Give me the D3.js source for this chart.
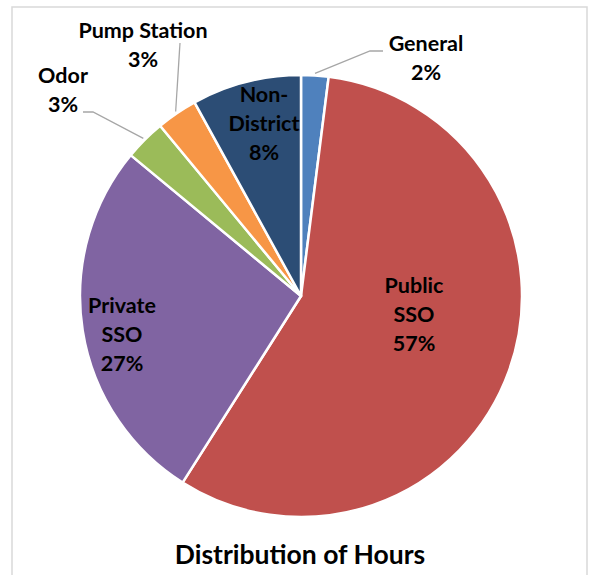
<!DOCTYPE html>
<html>
<head>
<meta charset="utf-8">
<script src="https://cdn.jsdelivr.net/npm/d3@7"></script>
<style>
  html, body { margin: 0; padding: 0; background: #fff; }
  svg { display: block; }
  text { font-family: Lato, "Open Sans", sans-serif; font-weight: bold; fill: #000; }
</style>
</head>
<body>
<svg id="chart" width="589" height="575"></svg>
<script>
// Share of hours by category, clockwise from 12 o'clock
const categories = ["General", "Public SSO", "Private SSO", "Odor", "Pump Station", "Non-District"];
const shares = [2, 57, 27, 3, 3, 8];
const colors = ["#4F81BD", "#C0504D", "#8064A2", "#9BBB59", "#F79646", "#2C4D75"];
// label text lines per category (value line appended from shares)
const labelLines = [["General"], ["Public", "SSO"], ["Private", "SSO"], ["Odor"], ["Pump Station"], ["Non-", "District"]];
const chartTitle = "Distribution of Hours";

const width = 589, height = 575;
const cx = 301, cy = 296, radius = 221;
const lineGap = 29;

const svg = d3.select("#chart");

// outer frame
svg.append("rect")
  .attr("x", 12).attr("y", 7)
  .attr("width", 575).attr("height", 580)
  .attr("fill", "none").attr("stroke", "#D9D9D9").attr("stroke-width", 1.5);

const data = categories.map((c, i) => ({ name: c, value: shares[i], color: colors[i], lines: labelLines[i] }));

const pie = d3.pie().sort(null).value(d => d.value);
const arcs = pie(data);
const arc = d3.arc().innerRadius(0).outerRadius(radius);

const g = svg.append("g").attr("transform", `translate(${cx},${cy})`);

g.selectAll("path.slice")
  .data(arcs)
  .join("path")
  .attr("class", "slice")
  .attr("d", arc)
  .attr("fill", d => d.data.color)
  .attr("stroke", "#fff")
  .attr("stroke-width", 2.5)
  .attr("stroke-linejoin", "round");

// label placement: inside labels by position, outside labels with leader lines
const midAngle = d => (d.startAngle + d.endAngle) / 2;
const polar = (a, r) => [Math.sin(a) * r, -Math.cos(a) * r];

const labelLayout = {
  "General":      { x: 426, y: 51, leader: [[383, 51], [370, 51]] },
  "Public SSO":   { x: 414, y: 293 },
  "Private SSO":  { x: 122, y: 313 },
  "Odor":         { x: 63,  y: 83, leader: [[83, 112], [93, 112]] },
  "Pump Station": { x: 143, y: 38, leader: [[180, 43]] },
  "Non-District": { x: 264, y: 102 }
};

arcs.forEach(d => {
  const L = labelLayout[d.data.name];
  const lines = d.data.lines.concat([d.data.value + "%"]);
  const t = svg.append("text")
    .attr("text-anchor", "middle")
    .attr("font-size", 21.5);
  lines.forEach((ln, i) => {
    t.append("tspan").attr("x", L.x).attr("y", L.y + i * lineGap).text(ln);
  });
  if (L.leader) {
    const [ex, ey] = polar(midAngle(d), radius + 2);
    const pts = L.leader.concat([[cx + ex, cy + ey]]);
    svg.append("path")
      .attr("d", d3.line()(pts))
      .attr("fill", "none")
      .attr("stroke", "#A6A6A6")
      .attr("stroke-width", 1.3);
  }
});

svg.append("text")
  .attr("x", 300).attr("y", 564)
  .attr("text-anchor", "middle")
  .attr("font-size", 26.5)
  .text(chartTitle);
</script>
</body>
</html>
